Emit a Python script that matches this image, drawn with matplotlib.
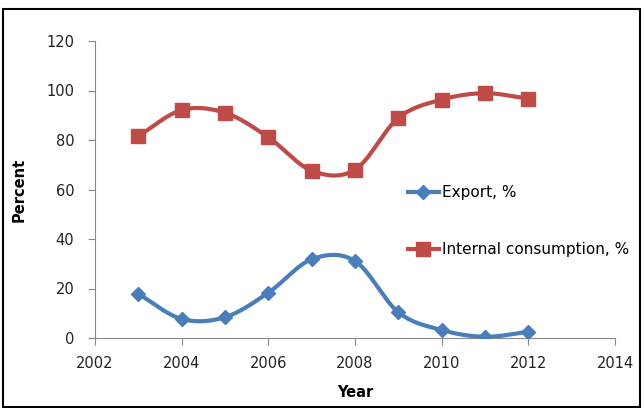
import numpy as np
import matplotlib.pyplot as plt
from matplotlib.patches import Rectangle

years = [2003, 2004, 2005, 2006, 2007, 2008, 2009, 2010, 2011, 2012]
export = [17.8, 7.7, 8.4, 18.3, 31.8, 31.1, 10.4, 3.2, 0.5, 2.5]
internal = [81.6, 92.1, 91.0, 81.1, 67.6, 68.0, 88.9, 96.3, 98.9, 96.7]


def smooth(x, y, n=30):
    # Catmull-Rom curve through the points, like Excel's smoothed line
    x = np.asarray(x, float)
    y = np.asarray(y, float)
    px = np.concatenate([[2 * x[0] - x[1]], x, [2 * x[-1] - x[-2]]])
    py = np.concatenate([[2 * y[0] - y[1]], y, [2 * y[-1] - y[-2]]])
    xs, ys = [], []
    t = np.linspace(0, 1, n)
    for i in range(1, len(px) - 2):
        for p, out in ((px, xs), (py, ys)):
            p0, p1, p2, p3 = p[i - 1], p[i], p[i + 1], p[i + 2]
            out.extend(0.5 * (2 * p1 + (-p0 + p2) * t
                              + (2 * p0 - 5 * p1 + 4 * p2 - p3) * t ** 2
                              + (-p0 + 3 * p1 - 3 * p2 + p3) * t ** 3))
    return xs, ys


plt.rcParams['font.family'] = ['DejaVu Sans']

fig = plt.figure(figsize=(6.44, 4.08), dpi=100)
ax = fig.add_axes([95 / 644, 70 / 408, 520 / 644, 297 / 408])

blue = '#4A7EBB'
red = '#BE4B48'

sx, sy = smooth(years, export)
ax.plot(sx, sy, color=blue, lw=3, zorder=2)
ax.plot(years, export, 'D', color=blue, ms=7, zorder=3)
sx, sy = smooth(years, internal)
ax.plot(sx, sy, color=red, lw=3, zorder=2)
ax.plot(years, internal, 's', color=red, ms=9.5, zorder=3)

# legend proxies
ax.plot([], [], '-D', color=blue, lw=3, ms=7, label='Export, %')
ax.plot([], [], '-s', color=red, lw=3, ms=9.5, label='Internal consumption, %')
handles, labels = ax.get_legend_handles_labels()
fig.legend(handles, labels, loc='upper left', bbox_to_anchor=(408 / 644, 1 - 185 / 408),
           frameon=False, fontsize=11, labelspacing=2.75, handlelength=2.0,
           handletextpad=0.2, borderaxespad=0, borderpad=0)

ax.set_xlim(2002, 2014)
ax.set_ylim(0, 120)
ax.set_xticks(range(2002, 2015, 2))
ax.set_yticks(range(0, 121, 20))
for s in ['top', 'right']:
    ax.spines[s].set_visible(False)
for s in ['left', 'bottom']:
    ax.spines[s].set_color('#888888')
ax.tick_params(direction='out', length=5, color='#888888', labelsize=10.5,
               labelcolor='#222222')
ax.tick_params(axis='y', pad=10)
ax.tick_params(axis='x', pad=8)
ax.set_xlabel('Year', fontsize=10.5, fontweight='bold', labelpad=10)
ax.set_ylabel('Percent', fontsize=10.5, fontweight='bold', labelpad=14)

fig.patches.append(Rectangle((3 / 644, 0.002), 637 / 644, 1 - 10 / 408,
                             transform=fig.transFigure, fill=False,
                             edgecolor='black', lw=1.5))

fig.savefig('out.png', dpi=100)
